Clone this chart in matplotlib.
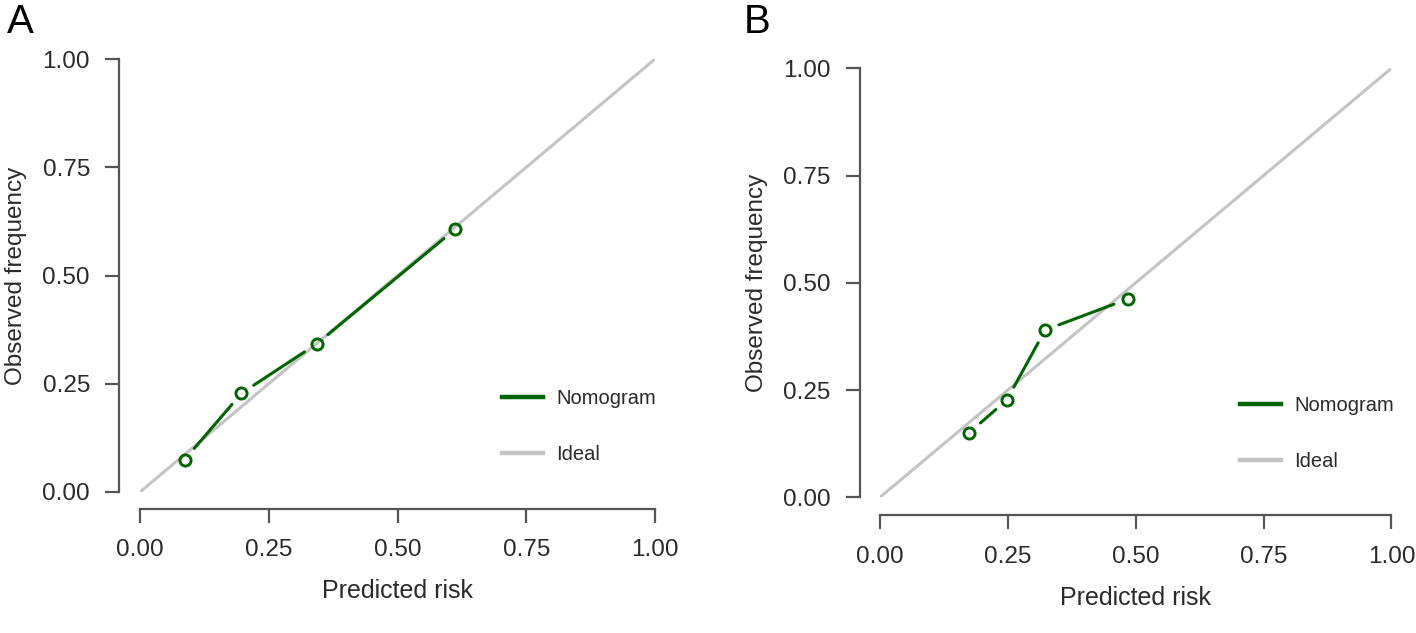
import matplotlib
matplotlib.use('Agg')
import matplotlib.pyplot as plt
from matplotlib.lines import Line2D

plt.rcParams['font.family'] = ['Liberation Sans', 'DejaVu Sans']

# calibration points
pred_a = [0.087, 0.197, 0.343, 0.612]
obs_a = [0.075, 0.228, 0.342, 0.607]
pred_b = [0.175, 0.248, 0.323, 0.484]
obs_b = [0.151, 0.227, 0.390, 0.462]
ticks = [0.0, 0.25, 0.5, 0.75, 1.0]
tick_labels = ['0.00', '0.25', '0.50', '0.75', '1.00']

green = '#006400'
grey_ideal = '#c4c4c4'
axis_col = '#555555'
text_col = '#2a2a2a'

W, H = 1416, 633
fig = plt.figure(figsize=(W / 100, H / 100), dpi=100)


def make_axes(x0, x1, y0, y1):
    # pixel coords of data (0,0) and (1,1)
    return fig.add_axes([x0 / W, (H - y0) / H, (x1 - x0) / W, (y0 - y1) / H])


def calib_panel(ax, pred, obs, left_off, bottom_off, leg_x, leg_y):
    ax.plot([0, 1], [0, 1], color=grey_ideal, lw=2.2, zorder=1)
    # R type='b': segments stop short of the points
    for i in range(len(pred) - 1):
        ax.annotate('', xy=(pred[i + 1], obs[i + 1]), xytext=(pred[i], obs[i]),
                    arrowprops=dict(arrowstyle='-', color=green, lw=2.2,
                                    shrinkA=10.5, shrinkB=10.5), zorder=3)
    ax.plot(pred, obs, linestyle='none', marker='o', ms=8, mew=2.1,
            mec=green, mfc='none', zorder=4)

    ax.set_xlim(0, 1)
    ax.set_ylim(0, 1)
    for s in ['top', 'right']:
        ax.spines[s].set_visible(False)
    ax.spines['left'].set_position(('outward', left_off))
    ax.spines['bottom'].set_position(('outward', bottom_off))
    for s in ['left', 'bottom']:
        ax.spines[s].set_color(axis_col)
        ax.spines[s].set_linewidth(1.6)
    ax.set_xticks(ticks)
    ax.set_xticklabels(tick_labels)
    ax.set_yticks(ticks)
    ax.set_yticklabels(tick_labels)
    ax.tick_params(length=10, width=1.6, color=axis_col, labelcolor=text_col,
                   labelsize=17.5)
    ax.tick_params(axis='x', pad=12)
    ax.tick_params(axis='y', pad=11)
    ax.set_xlabel('Predicted risk', fontsize=18, color=text_col, labelpad=13)
    ax.set_ylabel('Observed frequency', fontsize=17.5, color=text_col, labelpad=11)

    handles = [Line2D([], [], color=green, lw=3.2),
               Line2D([], [], color=grey_ideal, lw=3.2)]
    ax.legend(handles, ['Nomogram', 'Ideal'], loc='center left',
              bbox_to_anchor=(leg_x, leg_y), frameon=False, fontsize=14.5,
              handlelength=2.05, handletextpad=0.65, labelspacing=1.85,
              borderpad=0, borderaxespad=0, labelcolor=text_col)


ax_a = make_axes(140, 655, 492, 59)
calib_panel(ax_a, pred_a, obs_a, 15, 12, 0.703, 0.151)

ax_b = make_axes(880, 1391.4, 497.3, 68.3)
calib_panel(ax_b, pred_b, obs_b, 14.5, 13, 0.704, 0.149)

fig.text(7 / W, 1 - 3 / H, 'A', fontsize=29, va='top', ha='left', color='black')
fig.text(744 / W, 1 - 3 / H, 'B', fontsize=29, va='top', ha='left', color='black')

fig.savefig('out.png', dpi=100, facecolor='white')
